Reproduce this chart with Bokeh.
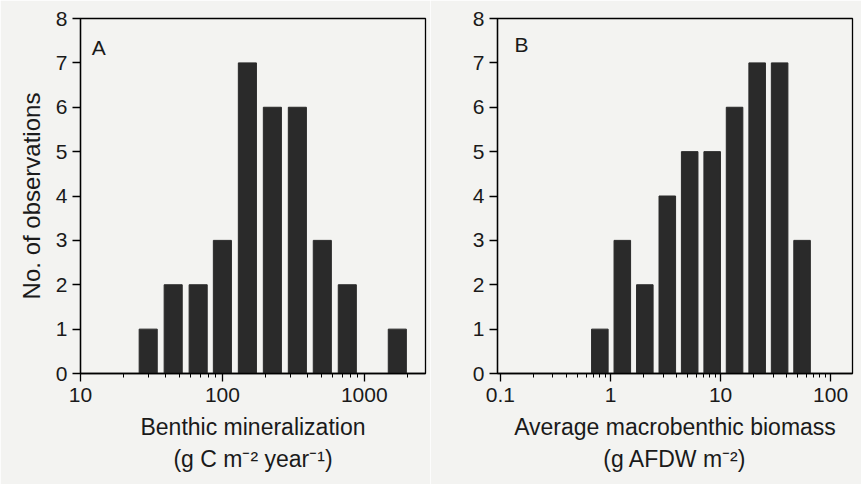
from bokeh.plotting import figure
from bokeh.layouts import row
from bokeh.models import FixedTicker, CustomJSTickFormatter, Label, ColumnDataSource
from bokeh.embed import file_html
from bokeh.resources import INLINE

# ---- data ----
a_centers = [30, 45, 67.5, 100, 150, 225, 337.5, 506, 759, 1139, 1709]
a_counts = [1, 2, 2, 3, 7, 6, 6, 3, 2, 0, 1]
a_ticks = [10, 100, 1000]

b_centers = [0.8, 1.28, 2.05, 3.28, 5.24, 8.39, 13.4, 21.5, 34.4, 55.0]
b_counts = [1, 3, 2, 4, 5, 5, 6, 7, 7, 3]
b_ticks = [0.1, 1, 10, 100]

y_ticks = [0, 1, 2, 3, 4, 5, 6, 7, 8]

FONT = "Liberation Sans"
BG = "#f3f3f1"
BAR = "#2a2a2a"


def make_panel(centers, counts, ticks, half, xr, w, h, bl, br, bt, bb, letter, lpos, xlabel, ylabel):
    p = figure(width=w, height=h, x_axis_type="log", x_range=xr, y_range=(0, 8),
               output_backend="svg", toolbar_location=None,
               min_border_left=bl, min_border_right=br, min_border_top=bt, min_border_bottom=bb)
    p.background_fill_color = BG
    p.border_fill_color = BG
    p.outline_line_color = "black"
    p.outline_line_width = 1.3
    p.grid.visible = False
    src = ColumnDataSource(dict(
        left=[c / half for c in centers],
        right=[c * half for c in centers],
        top=counts,
    ))
    p.quad(left="left", right="right", bottom=0, top="top", source=src,
           fill_color=BAR, line_color=BAR)
    minor = [t * k for t in ticks for k in range(2, 10)]
    p.xaxis.ticker = FixedTicker(ticks=ticks, minor_ticks=minor)
    p.xaxis.formatter = CustomJSTickFormatter(code="return String(tick)")
    p.yaxis.ticker = FixedTicker(ticks=y_ticks, minor_ticks=[])
    for ax in (p.xaxis[0], p.yaxis[0]):
        ax.axis_line_color = "black"
        ax.axis_line_width = 1.3
        ax.major_tick_line_color = "black"
        ax.major_tick_line_width = 1.3
        ax.major_tick_in = 0
        ax.major_tick_out = 8
        ax.minor_tick_in = 0
        ax.minor_tick_out = 4
        ax.minor_tick_line_color = "black"
        ax.major_label_text_font = FONT
        ax.major_label_text_font_size = "21px"
        ax.major_label_text_color = "#1a1a1a"
        ax.major_label_standoff = 5
        ax.axis_label_text_font = FONT
        ax.axis_label_text_font_style = "normal"
        ax.axis_label_text_color = "#1a1a1a"
    p.xaxis.major_label_standoff = 6
    p.xaxis.axis_label = xlabel
    p.xaxis.axis_label_text_font_size = "23px"
    p.xaxis.axis_label_standoff = 9
    p.xaxis.axis_label_text_line_height = 1.25
    if ylabel:
        p.yaxis.axis_label = ylabel
        p.yaxis.axis_label_text_font_size = "24px"
        p.yaxis.axis_label_standoff = 8
    p.add_layout(Label(x=lpos[0], y=lpos[1], text=letter, text_font=FONT, text_font_size="21px",
                       text_baseline="top", text_color="#1a1a1a"))
    return p


pA = make_panel(a_centers, a_counts, a_ticks, 1.158, (10, 2700), 430, 484, 80, 5, 18, 111,
                "A", (12, 7.6), "Benthic mineralization\n(g C m\u207b\u00b2 year\u207b\u00b9)",
                "No. of observations")
pB = make_panel(b_centers, b_counts, b_ticks, 1.189, (0.094, 158), 431, 484, 67, 9, 18, 111,
                "B", (0.134, 7.68), "Average macrobenthic biomass\n(g AFDW m\u207b\u00b2)", None)

layout = row(pA, pB)
open("out.html", "w").write(file_html(layout, INLINE))
